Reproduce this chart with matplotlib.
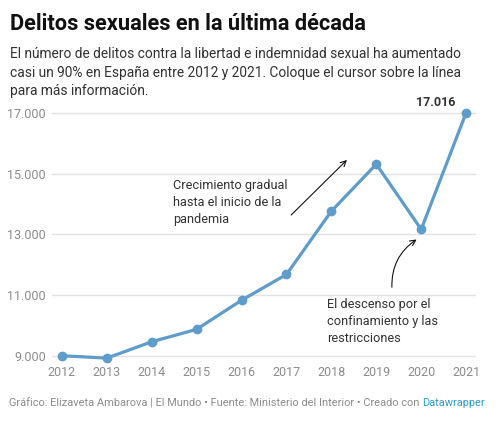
import matplotlib
matplotlib.use("Agg")
import matplotlib.pyplot as plt

years = [2012, 2013, 2014, 2015, 2016, 2017, 2018, 2019, 2020, 2021]
delitos = [9000, 8920, 9460, 9870, 10830, 11680, 13770, 15320, 13170, 17016]
yticks = [9000, 11000, 13000, 15000, 17000]
ytick_labels = ["9.000", "11.000", "13.000", "15.000", "17.000"]

title = "Delitos sexuales en la última década"
subtitle = ["El número de delitos contra la libertad e indemnidad sexual ha aumentado",
            "casi un 90% en España entre 2012 y 2021. Coloque el cursor sobre la línea",
            "para más información."]
note_up = "Crecimiento gradual\nhasta el inicio de la\npandemia"
note_down = "El descenso por el\nconfinamiento y las\nrestricciones"
footer = "Gráfico: Elizaveta Ambarova | El Mundo • Fuente: Ministerio del Interior • Creado con "

plt.rcParams['font.family'] = ['Roboto', 'DejaVu Sans']

W, H = 501, 422
fig = plt.figure(figsize=(W / 100, H / 100), dpi=100)

# axes placed so the grid runs from x=52 to x=476 px
ax = fig.add_axes([52 / W, 1 - 364.8 / H, 424 / W, (364.8 - 104.2) / H])
ax.set_xlim(2011.78, 2021.22)
ax.set_ylim(8700, 17300)

line_color = "#5e9ccc"
ax.plot(years, delitos, color=line_color, lw=2.3, marker="o", ms=6,
        solid_joinstyle="round", clip_on=False, zorder=3)

for s in ax.spines.values():
    s.set_visible(False)
ax.set_yticks(yticks)
ax.set_yticklabels(ytick_labels)
ax.set_xticks(years)
ax.set_xticklabels([str(y) for y in years])
ax.tick_params(axis="both", length=0, labelsize=9, labelcolor="#8c8c8c")
ax.tick_params(axis="y", pad=4.5)
ax.tick_params(axis="x", pad=1)
ax.grid(axis="y", color="#e2e2e2", lw=1)
ax.set_axisbelow(True)

# last value label
ax.annotate("17.016", (years[-1], delitos[-1]), xytext=(-8, 3), textcoords="offset points",
            ha="right", va="bottom", fontsize=9, fontweight="bold", color="#333333")

# annotations
ax.text(2014.47, 14830, note_up, fontsize=9.2, color="#333333", va="top", ha="left",
        linespacing=1.4)
ax.annotate("", xy=(2018.39, 15525), xytext=(2017.06, 13578),
            arrowprops=dict(arrowstyle="->", color="#111111", lw=0.8))
ax.text(2017.90, 10900, note_down, fontsize=9.2, color="#333333", va="top", ha="left",
        linespacing=1.4)
ax.annotate("", xy=(2019.95, 12884), xytext=(2019.35, 11168),
            arrowprops=dict(arrowstyle="->", color="#111111", lw=0.8,
                            connectionstyle="arc3,rad=-0.3"))

# title, subtitle, footer
fig.text(10 / W, 1 - 30 / H, title, fontsize=15.7, fontweight="bold", color="#111111",
         va="baseline", ha="left")
for i, s in enumerate(subtitle):
    fig.text(10 / W, 1 - (58.5 + 18.3 * i) / H, s, fontsize=9.9, color="#333333",
             va="baseline", ha="left")

ft = fig.text(9 / W, 1 - 406 / H, footer, fontsize=7.9, color="#8c8c8c",
              va="baseline", ha="left")
fig.canvas.draw()
bb = ft.get_window_extent()
fig.text(bb.x1 / W, 1 - 406 / H, "Datawrapper", fontsize=7.9, color="#2a9fc9",
         va="baseline", ha="left")

fig.savefig("out.png", dpi=100, facecolor="white")
